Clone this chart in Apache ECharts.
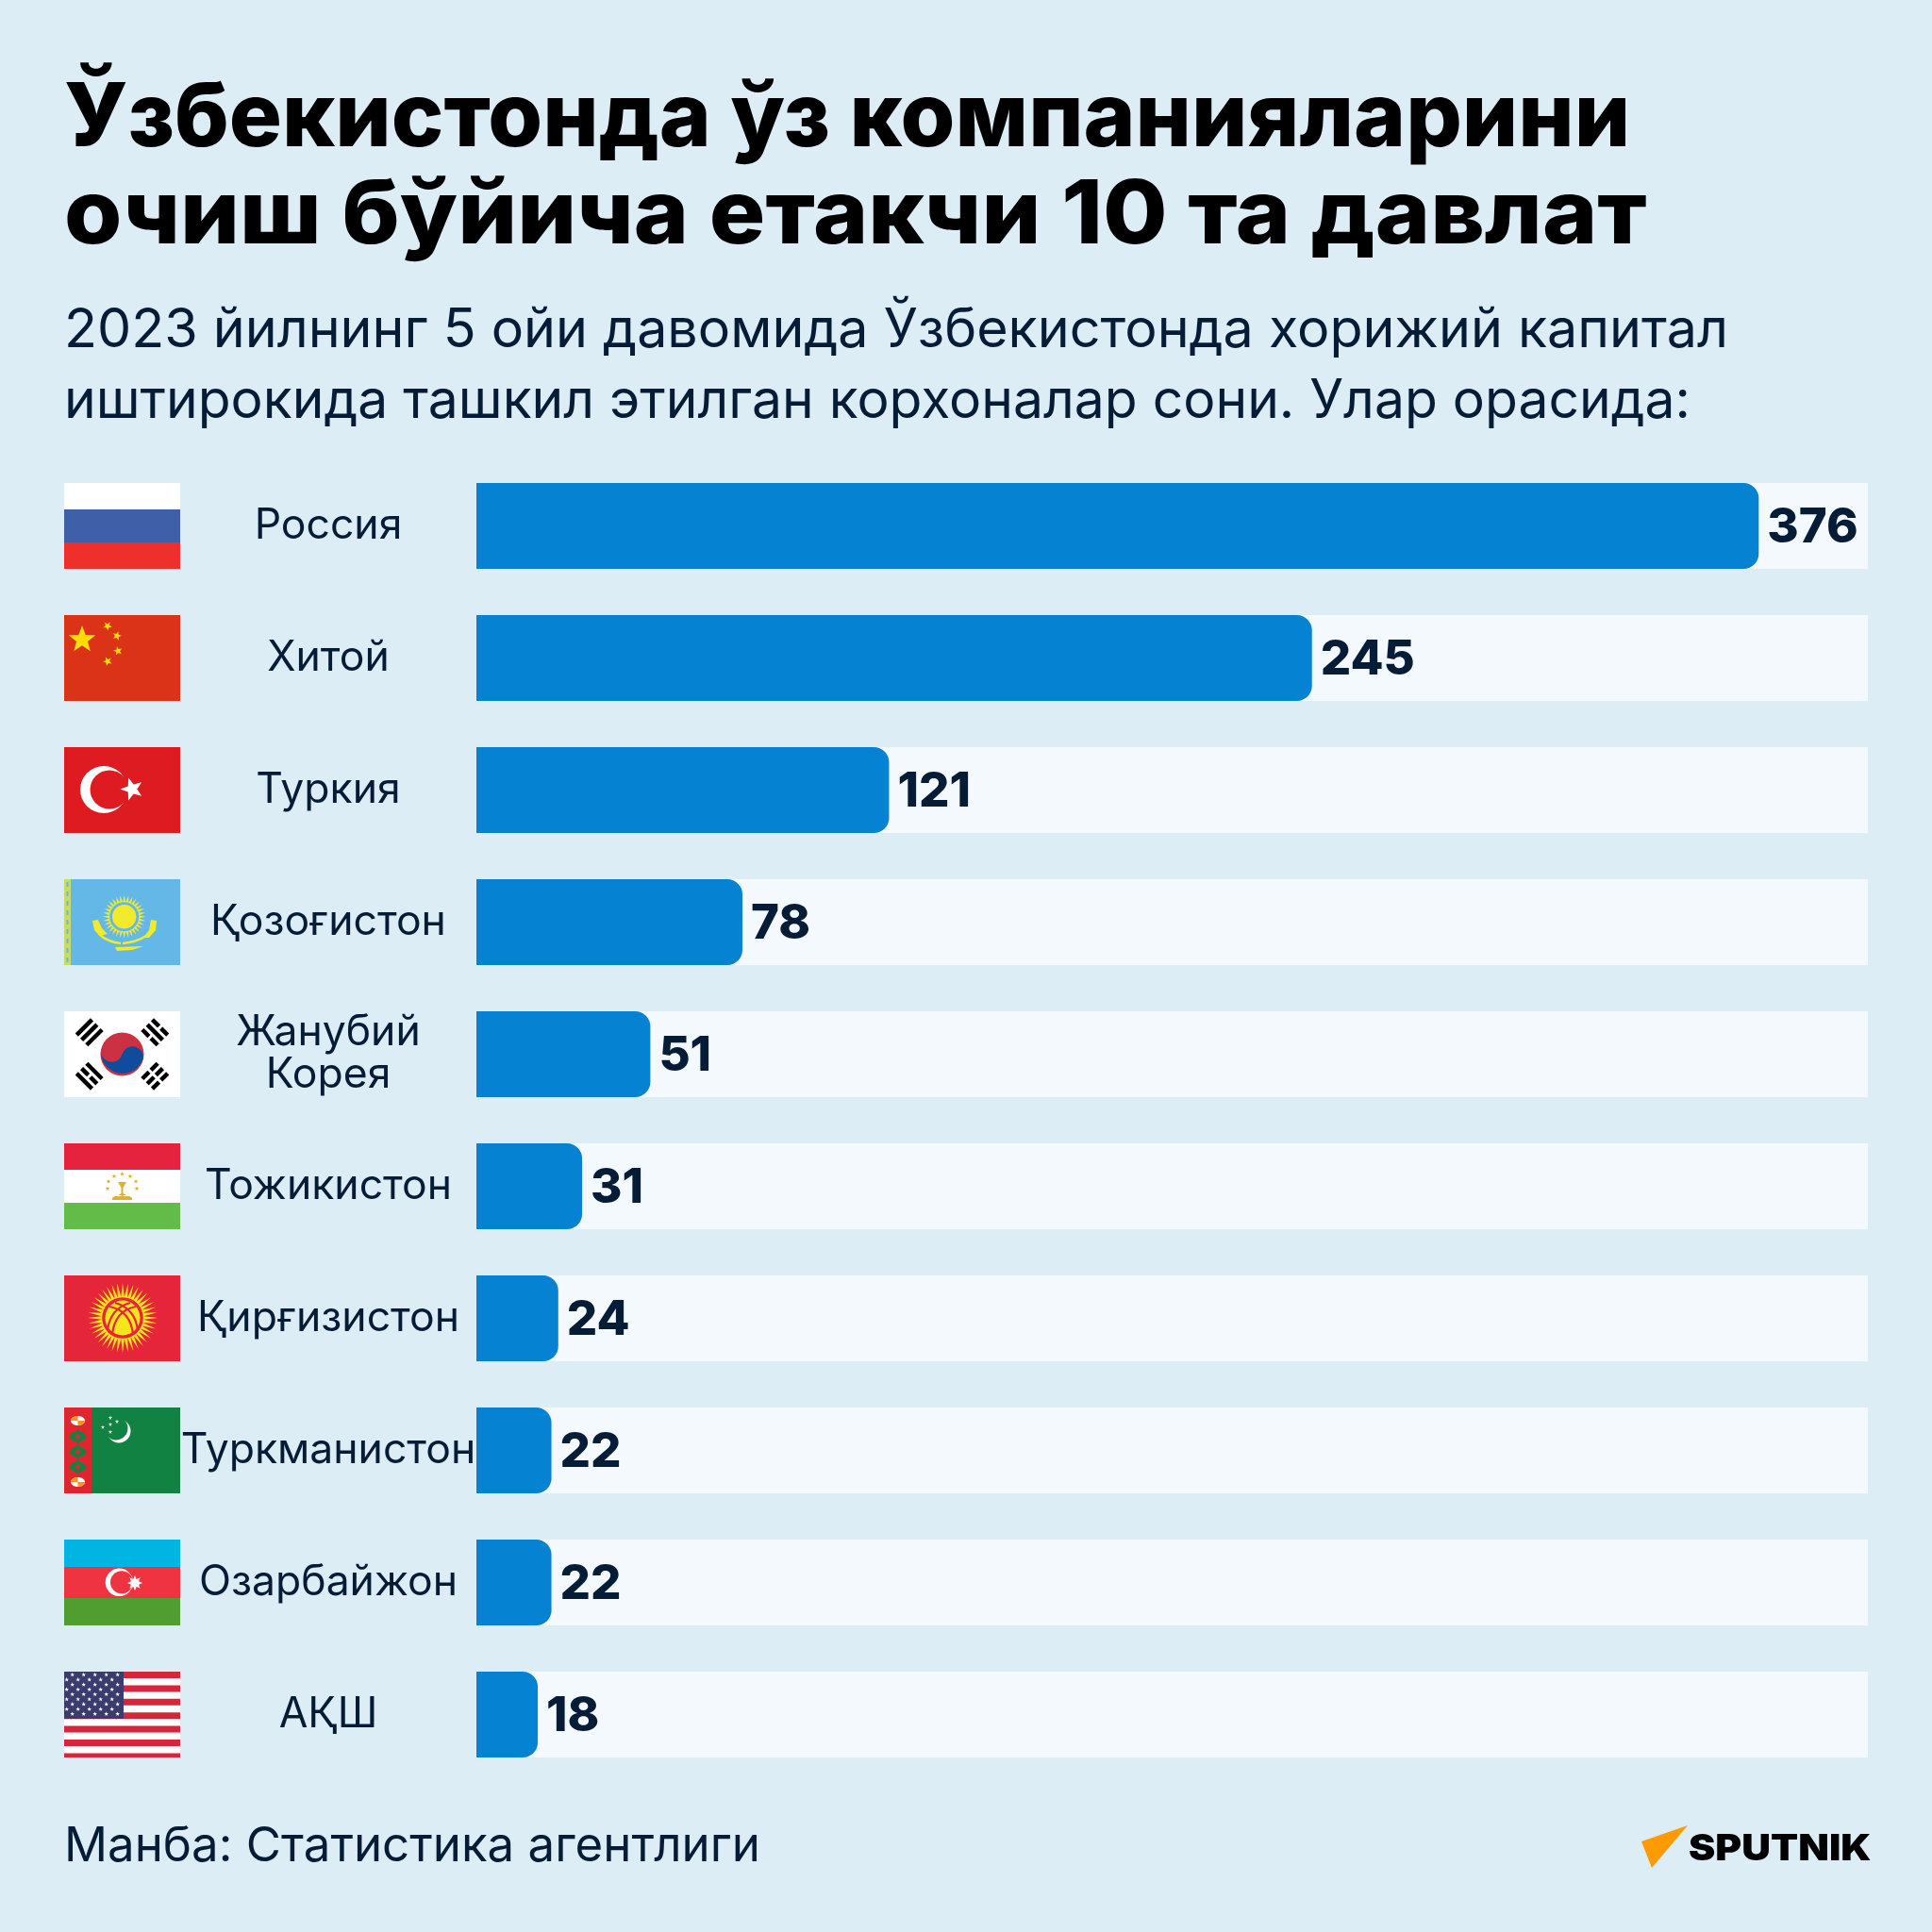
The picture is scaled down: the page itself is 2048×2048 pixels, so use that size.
<!DOCTYPE html>
<html><head><meta charset="utf-8"><style>html,body{margin:0;background:#dcedf6}#c{width:2048px;height:2048px}</style>
<script src="https://cdn.jsdelivr.net/npm/echarts@6/dist/echarts.min.js"></script></head><body><div id="c"></div><script>
const categories=['Россия','Хитой','Туркия','Қозоғистон','Жанубий\nКорея','Тожикистон','Қирғизистон','Туркманистон','Озарбайжон','АҚШ'];
const values=[376,245,121,78,51,31,24,22,22,18];
const flagKeys=['ru','cn','tr','kz','kr','tj','kg','tm','az','us'];
const titleLines=['Ўзбекистонда ўз компанияларини','очиш бўйича етакчи 10 та давлат'];
const subtitleLines=['2023 йилнинг 5 ойи давомида Ўзбекистонда хорижий капитал','иштирокида ташкил этилган корхоналар сони. Улар орасида:'];
const source='Манба: Статистика агентлиги';
const brand='SPUTNIK';
const FONT='Inter';
const rect=(x,y,w,h,fill,rot)=>({type:'rect',shape:{x:rot?-w/2:x,y:rot?-h/2:y,width:w,height:h},x:rot?x:0,y:rot?y:0,rotation:rot||0,style:{fill}});
const circ=(cx,cy,r,fill)=>({type:'circle',shape:{cx,cy,r},style:{fill}});
const oval=(cx,cy,rx,ry,fill)=>({type:'ellipse',shape:{cx,cy,rx,ry},style:{fill}});
const poly=(points,fill)=>({type:'polygon',shape:{points},style:{fill}});
function starPts(cx,cy,R,n,inner,rot){const p=[];for(let i=0;i<n*2;i++){const a=(rot||-Math.PI/2)+i*Math.PI/n,q=i%2?R*inner:R;p.push([cx+q*Math.cos(a),cy+q*Math.sin(a)])}return p}
const star=(cx,cy,R,fill,rot)=>poly(starPts(cx,cy,R,5,.42,rot),fill);
const svgPath=(d,fill,stroke,lw)=>({type:'path',shape:{pathData:d},style:{fill:fill||null,stroke:stroke||null,lineWidth:lw||0}});
function trigram(cx,cy,rot,broken){const out=[];[-7.5,0,7.5].forEach((o,i)=>{
  const ux=Math.cos(rot),uy=Math.sin(rot),px=cx+ux*o,py=cy+uy*o;
  if(broken[i]){[-6.5,6.5].forEach(s=>out.push(rect(px-uy*s,py+ux*s,4.5,10,'#000',-rot)))}
  else out.push(rect(px,py,4.5,23,'#000',-rot));
});return out}
const gul=(cy)=>[oval(14.5,cy,8.5,5.5,'#128243'),rect(13,cy-7.5,3,15,'#128243'),circ(14.5,cy,2.4,'#e1252f')];
const whiteGul=(cy)=>[oval(14.5,cy,7.5,5,'#fff'),svgPath(`M14.5 ${cy}L7 ${cy}A7.5 5 0 0 1 14.5 ${cy-5}Z`,'#f7941d'),svgPath(`M14.5 ${cy}L22 ${cy}A7.5 5 0 0 1 14.5 ${cy+5}Z`,'#f7941d')];
const flags={
 ru:()=>[rect(0,0,123,28,'#ffffff'),rect(0,28,123,35,'#3f5fa9'),rect(0,63,123,28,'#ee2f2c')],
 cn:()=>[rect(0,0,123,91,'#da3318'),star(19,26,15,'#ffdd00'),star(46,11.5,5,'#ffdd00',-1),star(56,22,5,'#ffdd00',-1.3),star(57,38,5,'#ffdd00',-1.8),star(46,49,5,'#ffdd00',-2)],
 tr:()=>[rect(0,0,123,91,'#df1b22'),circ(42,45,25,'#fff'),circ(48,45,20.5,'#df1b22'),star(72,44.5,12.5,'#fff',-Math.PI)],
 kz:()=>{const e=[rect(0,0,123,91,'#63b8e8'),rect(0,0,7,91,'#c7dc62')];
   for(let i=0;i<9;i++)e.push(rect(2.5,3+i*10,2,5,'#63b8e8'));
   e.push(poly(starPts(63.7,39.7,23,32,.68),'#f3ea2a'),circ(63.7,39.7,15.5,'#63b8e8'),circ(63.7,39.7,12.7,'#f3ea2a'));
   e.push(svgPath('M32 46C34 60 44 66 60 68M96 46C94 58 82 66 62 68','', '#f3ea2a',2.4));
   e.push(svgPath('M30 44L36 43L40 52L46 58L38 60L32 54Z','#f3ea2a'),svgPath('M98 44L92 43L90 54L84 62L90 62L97 54Z','#f3ea2a'),svgPath('M54 72L84 71L72 75L56 76Z','#f3ea2a'));return e},
 kr:()=>[rect(0,0,123,91,'#fff'),circ(61.5,45.5,23,'#cb3142'),
   svgPath('M39 41.5A11.5 11.5 0 0 0 61.5 45.5A11.5 11.5 0 0 1 84 49.5A23 23 0 0 1 39 41.5Z','#0f4c9e'),
   ...trigram(26.7,22.3,Math.PI/4,[0,0,0]),
   ...trigram(96.3,22.3,-Math.PI/4,[1,0,1]),
   ...trigram(26.7,68.7,-Math.PI/4,[0,1,0]),
   ...trigram(96.3,68.7,Math.PI/4,[1,1,1])],
 tj:()=>{const g='#d9b13a',e=[rect(0,0,123,28,'#e5233f'),rect(0,28,123,35,'#fff'),rect(0,63,123,28,'#62bc47')];
   [[61.5,32.5],[53,35],[70,35],[47,40.5],[76,40.5],[46,48],[77,48]].forEach(p=>e.push(star(p[0],p[1],2.6,g)));
   e.push(svgPath('M57 41L66 41L62.5 47L62.5 53L66 55L57 55L60.5 53L60.5 47Z',g));
   e.push(svgPath('M51 58C55 54 58 58 61.5 55C65 58 68 54 72 58L72 60L51 60Z',g));return e},
 kg:()=>{const e=[rect(0,0,123,91,'#e5263a'),poly(starPts(62,45,37,40,.6),'#f7e51c'),circ(62,45,21.8,'#e5263a'),circ(62,45,18.5,'#f7e51c')];
   ['M46 58C48 42 56 33 70 29','M51 62C53 45 61 36 76 33','M78 58C76 42 68 33 54 29','M73 62C71 45 63 36 48 33'].forEach(d=>e.push(svgPath(d,null,'#e5263a',2.2)));return e},
 tm:()=>{const e=[rect(0,0,123,91,'#128243'),rect(0,0,29,91,'#e1252f')];
   e.push(...whiteGul(14),...gul(30.7),...gul(47),...gul(63),...whiteGul(79));
   e.push(circ(58,25,12.5,'#fff'),circ(55,22,12.5,'#128243'));
   [[49,11],[56,15],[41,21],[49,18],[49,26]].forEach(p=>e.push(star(p[0],p[1],2.2,'#fff')));return e},
 az:()=>[rect(0,0,123,29,'#00b5e2'),rect(0,29,123,33,'#ef3340'),rect(0,62,123,29,'#509e2f'),circ(58.4,45.3,14.7,'#fff'),circ(61,45.3,12,'#ef3340'),poly(starPts(75,46,8,8,.55),'#fff')],
 us:()=>{const e=[rect(0,0,123,91,'#fff')];for(let i=0;i<7;i++)e.push(rect(0,i*14.4,123,i===6?4.6:7,'#d5263c'));
   e.push(rect(0,0,63,50,'#3c3b6e'));
   for(let r=0;r<9;r++){for(let c=0;c<5;c++)e.push(star((r%2?2.7:8.7)+c*12,3.3+r*5.2,2.4,'#fff'))}return e}
};
const chart=echarts.init(document.getElementById('c'));
const text=(x,baseline,t,size,weight,fill,sx)=>({type:'text',x,y:baseline-0.8*size,scaleX:sx||1,style:{text:t,fontSize:size,fontWeight:weight,fill,fontFamily:FONT}});
chart.setOption({
 animation:false,backgroundColor:'#dcedf6',
 grid:{left:505,top:487.5,width:1475,height:1400,containLabel:false},
 xAxis:{type:'value',min:0,max:408,show:false},
 yAxis:{type:'category',inverse:true,data:categories,axisLine:{show:false},axisTick:{show:false},
   axisLabel:{margin:157,align:'center',fontFamily:FONT,fontSize:44.5,lineHeight:45,padding:[5,0,0,0],color:'#051c36'}},
 series:[
  {type:'bar',data:values,barWidth:91,showBackground:true,backgroundStyle:{color:'#f4f9fe'},
   itemStyle:{color:'#0583d2',borderRadius:[0,16,16,0]},
   label:{show:true,position:'right',distance:9,offset:[0,2],fontFamily:FONT,fontWeight:800,fontSize:51,color:'#051c36'}},
  {type:'custom',coordinateSystem:'cartesian2d',data:categories.map((c,i)=>[0,i]),encode:{x:0,y:1},clip:false,silent:true,
   renderItem:(p,api)=>{const y=api.coord([0,api.value(1)])[1];
     return {type:'group',x:68,y:y-45.5,children:flags[flagKeys[p.dataIndex]]()}}}
 ],
 graphic:[
  text(68,155,titleLines[0],93.6,800,'#000'),
  text(68,258,titleLines[1],93.6,800,'#000',1.06),
  text(68,368,subtitleLines[0],57.4,400,'#051c36'),
  text(68,443,subtitleLines[1],57,400,'#051c36'),
  text(68,1973,source,51,400,'#051c36'),
  {type:'polygon',shape:{points:[[1740,1952],[1789,1935],[1751,1980]]},style:{fill:'#ff9a00'}},
  text(1790,1972,brand,38,900,'#000',1.12)
 ]
});
</script></body></html>
